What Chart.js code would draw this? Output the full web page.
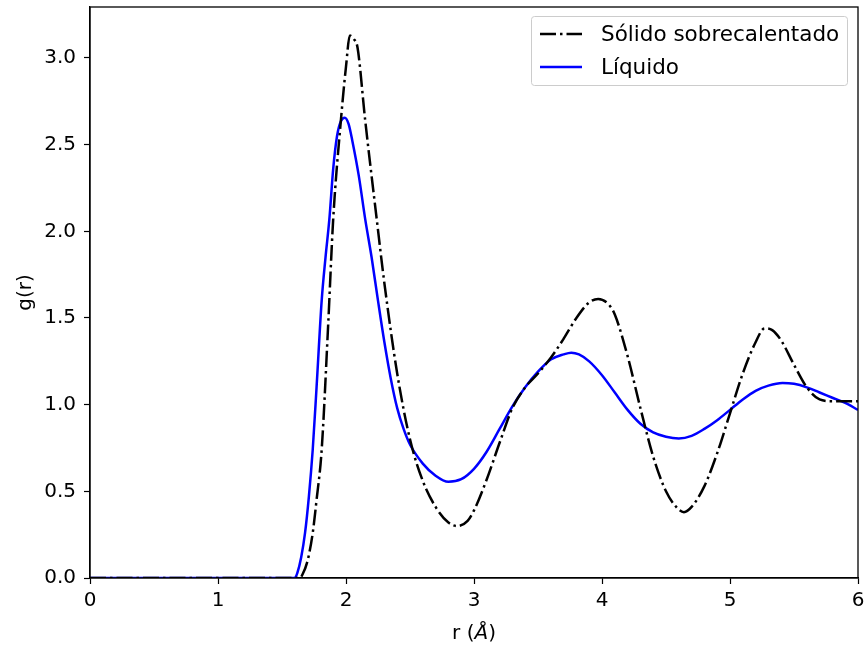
<!DOCTYPE html>
<html>
<head>
<meta charset="utf-8">
<script src="https://cdn.jsdelivr.net/npm/chart.js@4.4.0/dist/chart.umd.min.js"></script>
<style>
  html, body { margin: 0; padding: 0; background: #fff; }
  #wrap { width: 865px; height: 649px; }
</style>
</head>
<body>
<div id="wrap"><canvas id="rdf" width="865" height="649"></canvas></div>
<script>
// radial distribution data
const rSolid = [0, 0.5, 1.0, 1.5, 1.64, 1.66, 1.7, 1.74, 1.77, 1.81, 1.86, 1.90, 1.96, 2.0, 2.03, 2.06, 2.09, 2.15, 2.24, 2.3, 2.4, 2.5, 2.6, 2.7, 2.8, 2.87, 2.95, 3.0, 3.1, 3.2, 3.3, 3.4, 3.5, 3.6, 3.7, 3.8, 3.9, 3.97, 4.05, 4.1, 4.2, 4.3, 4.4, 4.5, 4.58, 4.64, 4.7, 4.8, 4.9, 5.0, 5.1, 5.2, 5.27, 5.33, 5.4, 5.5, 5.6, 5.7, 5.8, 5.9, 6.0];
const gSolid = [0, 0, 0, 0, 0, 0.02, 0.1, 0.26, 0.45, 0.74, 1.45, 2.07, 2.64, 2.95, 3.13, 3.11, 3.06, 2.64, 2.07, 1.70, 1.18, 0.80, 0.56, 0.41, 0.32, 0.30, 0.33, 0.39, 0.57, 0.78, 0.98, 1.10, 1.18, 1.27, 1.38, 1.50, 1.59, 1.61, 1.58, 1.52, 1.28, 0.98, 0.70, 0.50, 0.41, 0.38, 0.41, 0.53, 0.72, 0.95, 1.18, 1.36, 1.44, 1.43, 1.37, 1.23, 1.10, 1.03, 1.02, 1.02, 1.02];

const rLiquid = [0, 0.5, 1.0, 1.5, 1.6, 1.62, 1.65, 1.68, 1.71, 1.74, 1.77, 1.81, 1.84, 1.87, 1.90, 1.93, 1.96, 1.99, 2.02, 2.05, 2.1, 2.15, 2.2, 2.25, 2.3, 2.35, 2.4, 2.45, 2.5, 2.6, 2.7, 2.8, 2.9, 3.0, 3.1, 3.2, 3.3, 3.4, 3.5, 3.6, 3.7, 3.76, 3.82, 3.9, 4.0, 4.1, 4.2, 4.3, 4.4, 4.5, 4.6, 4.7, 4.8, 4.9, 5.0, 5.1, 5.2, 5.3, 5.41, 5.5, 5.6, 5.7, 5.8, 5.9, 6.0];
const gLiquid = [0, 0, 0, 0, 0, 0.03, 0.12, 0.26, 0.47, 0.74, 1.1, 1.6, 1.85, 2.07, 2.36, 2.55, 2.635, 2.655, 2.62, 2.52, 2.32, 2.07, 1.85, 1.60, 1.36, 1.15, 0.98, 0.86, 0.77, 0.66, 0.59, 0.555, 0.57, 0.63, 0.73, 0.86, 0.99, 1.10, 1.19, 1.26, 1.29, 1.30, 1.29, 1.25, 1.17, 1.07, 0.97, 0.89, 0.84, 0.815, 0.805, 0.82, 0.86, 0.91, 0.97, 1.03, 1.08, 1.11, 1.125, 1.12, 1.10, 1.07, 1.04, 1.01, 0.97];

const seriesNames = ['Sólido sobrecalentado', 'Líquido'];
const xTicks = [0, 1, 2, 3, 4, 5, 6];
const yTicks = [0.0, 0.5, 1.0, 1.5, 2.0, 2.5, 3.0];

const FONT = 'DejaVu Sans';
const FS = 20;
const LEGEND_FS = 21.5;

function toPoints(xs, ys) {
  return xs.map((x, i) => ({ x, y: ys[i] }));
}

// frame, x label with italic Å, and a matplotlib-style legend box
const framePlugin = {
  id: 'frame',
  afterDraw(chart) {
    const { ctx, chartArea: a } = chart;
    ctx.save();
    ctx.strokeStyle = '#000';
    ctx.lineWidth = 1.3;
    ctx.strokeRect(a.left, a.top, a.right - a.left, a.bottom - a.top);

    // x axis label: r (Å)
    const parts = [['r (', ''], ['Å', 'italic '], [')', '']];
    let total = 0;
    parts.forEach(p => { ctx.font = p[1] + FS + 'px "' + FONT + '"'; total += ctx.measureText(p[0]).width; });
    let x = (a.left + a.right) / 2 - total / 2;
    ctx.fillStyle = '#000';
    ctx.textBaseline = 'middle';
    parts.forEach(p => {
      ctx.font = p[1] + FS + 'px "' + FONT + '"';
      ctx.fillText(p[0], x, 634);
      x += ctx.measureText(p[0]).width;
    });

    const bx = 531, by = 16, bw = 316, bh = 69;
    ctx.fillStyle = 'rgba(255,255,255,0.8)';
    ctx.strokeStyle = '#cccccc';
    ctx.lineWidth = 1;
    ctx.beginPath();
    ctx.roundRect(bx + 0.5, by + 0.5, bw, bh, 3);
    ctx.fill();
    ctx.stroke();

    chart.data.datasets.forEach((ds, i) => {
      const y = by + 18 + i * 33;
      ctx.strokeStyle = ds.borderColor;
      ctx.lineWidth = ds.borderWidth;
      ctx.setLineDash(ds.borderDash || []);
      ctx.beginPath();
      ctx.moveTo(bx + 9, y);
      ctx.lineTo(bx + 51, y);
      ctx.stroke();
      ctx.setLineDash([]);
      ctx.fillStyle = '#000';
      ctx.font = LEGEND_FS + 'px "' + FONT + '"';
      ctx.textBaseline = 'middle';
      ctx.fillText(ds.label, bx + 70, y + 1);
    });
    ctx.restore();
  }
};

new Chart(document.getElementById('rdf'), {
  type: 'line',
  data: {
    datasets: [
      {
        label: seriesNames[0],
        data: toPoints(rSolid, gSolid),
        borderColor: '#000000',
        borderWidth: 2.5,
        borderDash: [16, 4, 2.5, 4],
        pointRadius: 0,
        fill: false,
        cubicInterpolationMode: 'monotone'
      },
      {
        label: seriesNames[1],
        data: toPoints(rLiquid, gLiquid),
        borderColor: '#0000ff',
        borderWidth: 2.5,
        pointRadius: 0,
        fill: false,
        cubicInterpolationMode: 'monotone'
      }
    ]
  },
  options: {
    responsive: false,
    animation: false,
    layout: { padding: { top: 7, right: 7, left: 0, bottom: 0 } },
    plugins: {
      legend: { display: false },
      tooltip: { enabled: false }
    },
    scales: {
      x: {
        type: 'linear',
        min: 0,
        max: 6,
        afterBuildTicks: (s) => { s.ticks = xTicks.map(v => ({ value: v })); },
        afterFit: (s) => { s.height = 71; s.paddingLeft = 0; s.paddingRight = 0; },
        grid: { drawOnChartArea: false, color: '#000', tickLength: 6, tickWidth: 1.2 },
        border: { color: '#000', width: 1.3 },
        ticks: { color: '#000', font: { family: FONT, size: FS }, padding: 5, maxRotation: 0 },
        title: { display: false }
      },
      y: {
        type: 'linear',
        min: 0,
        max: 3.294,
        afterBuildTicks: (s) => { s.ticks = yTicks.map(v => ({ value: v })); },
        afterFit: (s) => { s.width = 90; s.paddingTop = 0; s.paddingBottom = 0; },
        grid: { drawOnChartArea: false, color: '#000', tickLength: 6, tickWidth: 1.2 },
        border: { color: '#000', width: 1.3 },
        ticks: { color: '#000', font: { family: FONT, size: FS }, padding: 8, callback: (v) => v.toFixed(1) },
        title: { display: true, text: 'g(r)', color: '#000', font: { family: FONT, size: FS }, padding: { top: 14, bottom: 0 } }
      }
    }
  },
  plugins: [framePlugin]
});
</script>
</body>
</html>
